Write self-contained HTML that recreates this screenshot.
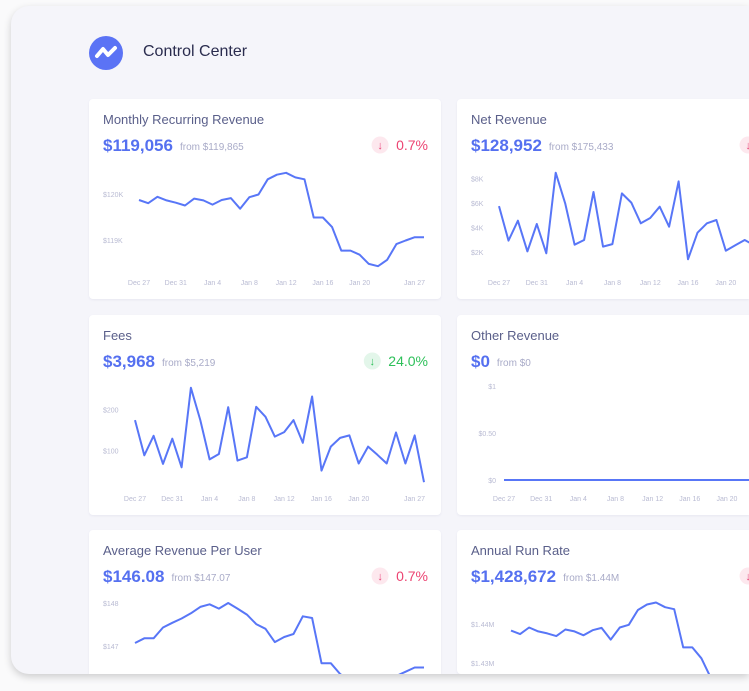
<!DOCTYPE html>
<html><head><meta charset="utf-8"><style>
*{margin:0;padding:0;box-sizing:border-box}
body{width:749px;height:691px;overflow:hidden;background:#fafafb;font-family:"Liberation Sans",sans-serif;position:relative}
#panel{position:absolute;left:11px;top:6px;width:738px;height:668px;background:#f5f5fa;border-radius:18px 0 0 18px;box-shadow:0 3px 8px rgba(0,0,0,.18);overflow:hidden}
.card{position:absolute;width:352px;height:200px;background:#fff;border-radius:4px;box-shadow:0 1px 2px rgba(80,80,140,.08);overflow:hidden}
.card.short{height:144px;border-radius:4px 4px 0 0}
.card.wide{width:292px;border-radius:4px 0 0 4px}
.card svg{position:absolute;left:0;top:0;overflow:hidden}
</style></head><body>
<div id="panel">
<svg style="position:absolute;left:78px;top:30px" width="36" height="36"><circle cx="17" cy="17" r="17" fill="#5b73f5"/><path d="M8 20 L14 13 L19 19 L26 12" stroke="#fff" stroke-width="4" fill="none" stroke-linecap="round" stroke-linejoin="round"/></svg>
<div style="position:absolute;left:132px;top:37px;font-size:16px;color:#2a2c4e;font-weight:500">Control Center</div>
</div>
<script>
const panel=document.getElementById('panel');
const dayLabels=["Dec 27","Dec 31","Jan 4","Jan 8","Jan 12","Jan 16","Jan 20","Jan 27"];
const labelDays=[0,4,8,12,16,20,24,31];
const mrrValues=[119.87,119.80,119.94,119.86,119.81,119.75,119.90,119.86,119.77,119.87,119.91,119.68,119.93,119.99,120.32,120.42,120.46,120.36,120.32,119.49,119.49,119.28,118.77,118.77,118.68,118.48,118.43,118.57,118.91,118.99,119.06,119.06];
const netValues=[5.76,2.93,4.56,2.05,4.29,1.89,8.49,5.98,2.60,2.98,6.91,2.44,2.65,6.80,6.04,4.35,4.78,5.71,4.07,7.78,1.40,3.58,4.35,4.62,2.11,2.55,2.98,2.55,3.2,2.4,4.0,2.8];
const feeValues=[174,89,136,68,129,60,252,174,79,92,205,76,84,206,182,134,145,174,119,231,52,110,131,137,69,110,90,69,144,69,137,24];
const otherValues=[0,0,0,0,0,0,0,0,0,0,0,0,0,0,0,0,0,0,0,0,0,0,0,0,0,0,0,0,0,0,0,0];
const arpuValues=[147.07,147.18,147.18,147.43,147.54,147.64,147.76,147.91,147.97,147.87,148.0,147.87,147.73,147.51,147.40,147.09,147.21,147.28,147.69,147.65,146.60,146.60,146.35,146.2,146.1,145.9,145.85,146.0,146.3,146.4,146.5,146.5];
const arrValues=[1.4383,1.4374,1.4391,1.4381,1.4376,1.4369,1.4386,1.4381,1.4371,1.4384,1.4390,1.4360,1.4391,1.4398,1.4436,1.4450,1.4455,1.4443,1.4438,1.4340,1.4340,1.4312,1.4264,1.4264,1.425,1.423,1.4225,1.424,1.428,1.429,1.4296,1.4296];
const mrrTicks=[119,120], mrrTickLabels=["$119K","$120K"];
const netTicks=[2,4,6,8], netTickLabels=["$2K","$4K","$6K","$8K"];
const feeTicks=[100,200], feeTickLabels=["$100","$200"];
const otherTicks=[0,0.5,1], otherTickLabels=["$0","$0.50","$1"];
const arpuTicks=[147,148], arpuTickLabels=["$147","$148"];
const arrTicks=[1.43,1.44], arrTickLabels=["$1.43M","$1.44M"];
const NS='http://www.w3.org/2000/svg';
function mk(t,a){const e=document.createElementNS(NS,t);for(const k in a)e.setAttribute(k,a[k]);return e;}
const cards=[
 {name:'mrr',title:'Monthly Recurring Revenue',val:'$119,056',from:'from $119,865',chg:'0.7%',good:false,x:78,y:93,pl:50,v:mrrValues,d:[119,120],p:[141,95],t:mrrTicks,tl:mrrTickLabels},
 {name:'net-revenue',title:'Net Revenue',val:'$128,952',from:'from $175,433',chg:'0.7%',good:false,x:446,y:93,pl:42,v:netValues,d:[2,8],p:[153,79.7],t:netTicks,tl:netTickLabels},
 {name:'fees',title:'Fees',val:'$3,968',from:'from $5,219',chg:'24.0%',good:true,x:78,y:309,pl:46,v:feeValues,d:[100,200],p:[135.7,94.3],t:feeTicks,tl:feeTickLabels},
 {name:'other-revenue',title:'Other Revenue',val:'$0',from:'from $0',chg:null,x:446,y:309,pl:47,v:otherValues,d:[0,1],p:[165,71],t:otherTicks,tl:otherTickLabels,endAnchor:true},
 {name:'arpu',title:'Average Revenue Per User',val:'$146.08',from:'from $147.07',chg:'0.7%',good:false,x:78,y:524,pl:46,v:arpuValues,d:[147,148],p:[116,73],t:arpuTicks,tl:arpuTickLabels},
 {name:'annual-run-rate',title:'Annual Run Rate',val:'$1,428,672',from:'from $1.44M',chg:'0.7%',good:false,x:446,y:524,pl:54,v:arrValues,d:[1.43,1.44],p:[133,94],t:arrTicks,tl:arrTickLabels}
];
cards.forEach(c=>{
 const short=c.y>500;
 const div=document.createElement('div');div.className='card'+(short?' short':'')+(c.x>400?' wide':'');
 
 
 div.style.left=c.x+'px';div.style.top=c.y+'px';
 const svg=mk('svg',{width:c.x>400?292:352,height:short?144:200});
 div.appendChild(svg);panel.appendChild(div);
 const title=mk('text',{x:14,y:25,'font-size':13,fill:'#5a5f8a'});title.textContent=c.title;
 
 
 svg.appendChild(title);
 const val=mk('text',{x:14,y:52,'font-size':17,'font-weight':'bold',fill:'#5570f0'});val.textContent=c.val;
 
 
 svg.appendChild(val);
 const from=mk('text',{x:0,y:51,'font-size':10,fill:'#a9abc8'});from.textContent=c.from;
 
 
 svg.appendChild(from);
 from.setAttribute('x',14+val.getBBox().width+7);
 if(c.chg){
  const pc=mk('text',{x:339,y:51,'font-size':14,'text-anchor':'end',fill:c.good?'#2ec05a':'#ec4472'});pc.textContent=c.chg;
  
  
  svg.appendChild(pc);
  const cx=339-pc.getBBox().width-16;
  const circ=mk('circle',{cx:cx,cy:46,r:8.5,fill:c.good?'#e3f6ea':'#fde8ee'});
  
  
  svg.appendChild(circ);
  const ar=mk('text',{x:cx,y:50,'font-size':11,'text-anchor':'middle',fill:c.good?'#2ec05a':'#e8457a'});ar.textContent='↓';
  
  
  svg.appendChild(ar);
 }
 const xs=i=>c.pl+i*(335-c.pl)/31;
 const ys=v=>c.p[0]+(v-c.d[0])/(c.d[1]-c.d[0])*(c.p[1]-c.p[0]);
 c.t.forEach((t,i)=>{
  const tx=mk('text',c.endAnchor?{x:39,y:ys(t)+3,'font-size':7,'text-anchor':'end',fill:'#b9bbd3'}:{x:14,y:ys(t)+3,'font-size':7,fill:'#b9bbd3'});
  tx.textContent=c.tl[i];
  
  
  svg.appendChild(tx);
 });
 if(!short){
 labelDays.forEach((d,i)=>{
  const last=i===labelDays.length-1;
  const tx=mk('text',{x:last?xs(d)+1:xs(d),y:186,'font-size':7,'text-anchor':last?'end':'middle',fill:'#b9bbd3'});
  tx.textContent=dayLabels[i];
  
  
  svg.appendChild(tx);
 });
 }
 const pts=c.v.map((v,i)=>xs(i).toFixed(1)+','+ys(v).toFixed(1)).join(' ');
 const line=mk('polyline',{points:pts,fill:'none',stroke:'#5876f7','stroke-width':2,'stroke-linejoin':'round'});
 
 
 svg.appendChild(line);
});
</script>
</body></html>
